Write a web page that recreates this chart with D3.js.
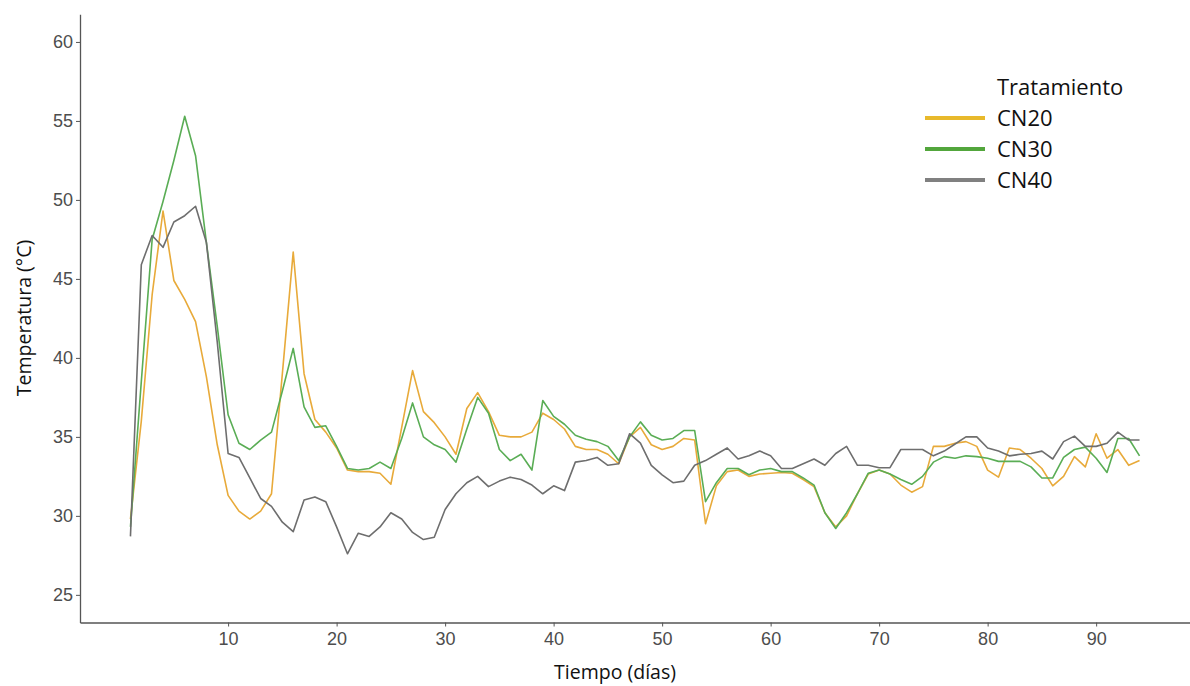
<!DOCTYPE html>
<html>
<head>
<meta charset="utf-8">
<script src="https://cdn.jsdelivr.net/npm/d3@7"></script>
<style>
  body { margin: 0; background: #fff; }
  .tick text { font-family: "Liberation Sans", Arial, sans-serif; font-size: 18px; fill: #4d4d4d; }
  .tick line, .domain { stroke: #555; }
  .title { font-family: "Open Sans", sans-serif; font-size: 19.5px; fill: #111; }
  .legend text { font-family: "Open Sans", sans-serif; font-size: 22px; fill: #111; }
</style>
</head>
<body>
<div id="chart"></div>
<script>
// days 1..94
const days = d3.range(1, 95);

const cn20 = [29.8, 36.0, 44.0, 49.3, 44.9, 43.7, 42.3, 38.8, 34.5, 31.3,
  30.3, 29.8, 30.3, 31.4, 39.0, 46.7, 39.0, 36.1, 35.3, 34.3,
  32.9, 32.8, 32.8, 32.7, 32.0, 35.6, 39.2, 36.6, 35.9, 35.0,
  33.9, 36.8, 37.8, 36.6, 35.1, 35.0, 35.0, 35.3, 36.5, 36.1,
  35.5, 34.4, 34.2, 34.2, 33.9, 33.3, 35.0, 35.6, 34.5, 34.2,
  34.4, 34.9, 34.8, 29.5, 31.9, 32.8, 32.9, 32.5, 32.65, 32.7,
  32.75, 32.7, 32.3, 31.85, 30.2, 29.3, 30.0, 31.4, 32.65, 32.9,
  32.65, 31.95, 31.5, 31.85, 34.4, 34.4, 34.6, 34.7, 34.4, 32.9,
  32.45, 34.3, 34.2, 33.65, 33.0, 31.9, 32.5, 33.75, 33.1, 35.2,
  33.65, 34.2, 33.2, 33.5];

const cn30 = [29.3, 38.5, 47.5, 49.9, 52.5, 55.3, 52.8, 47.3, 42.0, 36.4,
  34.6, 34.2, 34.8, 35.3, 37.9, 40.6, 36.9, 35.6, 35.7, 34.4,
  33.0, 32.9, 33.0, 33.4, 33.0, 34.9, 37.15, 35.0, 34.5, 34.2,
  33.4, 35.5, 37.5, 36.5, 34.2, 33.5, 33.9, 32.9, 37.3, 36.3,
  35.8, 35.1, 34.85, 34.7, 34.4, 33.5, 35.0, 35.95, 35.1, 34.8,
  34.9, 35.4, 35.4, 30.9, 32.1, 33.0, 33.0, 32.6, 32.9, 33.0,
  32.8, 32.8, 32.4, 31.95, 30.2, 29.2, 30.2, 31.4, 32.7, 32.9,
  32.65, 32.3, 32.0, 32.5, 33.4, 33.75, 33.65, 33.8, 33.75, 33.65,
  33.45, 33.45, 33.45, 33.1, 32.4, 32.4, 33.7, 34.2, 34.35, 33.65,
  32.75, 34.9, 34.9, 33.8];

const cn40 = [28.7, 45.9, 47.75, 47.0, 48.6, 49.0, 49.6, 47.3, 41.0, 33.95,
  33.7, 32.4, 31.1, 30.6, 29.6, 29.0, 31.0, 31.2, 30.9, 29.3,
  27.6, 28.9, 28.7, 29.3, 30.2, 29.8, 28.95, 28.5, 28.65, 30.4,
  31.4, 32.1, 32.5, 31.85, 32.2, 32.45, 32.3, 31.95, 31.4, 31.9,
  31.6, 33.4, 33.5, 33.7, 33.2, 33.3, 35.2, 34.6, 33.2, 32.6,
  32.1, 32.2, 33.2, 33.5, 33.9, 34.3, 33.6, 33.8, 34.1, 33.8,
  33.0, 33.0, 33.3, 33.6, 33.2, 33.95, 34.4, 33.2, 33.2, 33.05,
  33.05, 34.2, 34.2, 34.2, 33.8, 34.1, 34.55, 35.0, 35.0, 34.3,
  34.1, 33.8, 33.9, 33.95, 34.1, 33.6, 34.7, 35.05, 34.4, 34.4,
  34.6, 35.3, 34.8, 34.8];

const seriesNames = ["CN20", "CN30", "CN40"];
const lineColors = ["#e8aa3a", "#5aad55", "#6e6e6e"];
const legendColors = ["#e8b92b", "#52a63c", "#808080"];

const xTicks = [10, 20, 30, 40, 50, 60, 70, 80, 90];
const yTicks = [25, 30, 35, 40, 45, 50, 55, 60];

const width = 1190, height = 686;

const svg = d3.select("#chart").append("svg")
    .attr("width", width)
    .attr("height", height);

svg.append("rect").attr("width", width).attr("height", height).attr("fill", "#fff");

const x = d3.scaleLinear().domain([-3.65, 98.65]).range([80, 1190]);
const y = d3.scaleLinear().domain([23.25, 61.75]).range([622.5, 14.3]);

svg.append("g")
    .attr("transform", "translate(80,0)")
    .call(d3.axisLeft(y).tickValues(yTicks).tickSize(4).tickSizeOuter(0).tickPadding(3))
    .call(function(g) { g.select(".domain").attr("stroke-width", 1.3); });

svg.append("g")
    .attr("transform", "translate(0,622.5)")
    .call(d3.axisBottom(x).tickValues(xTicks).tickSize(4).tickSizeOuter(0).tickPadding(6))
    .call(function(g) { g.select(".domain").attr("stroke-width", 1.3); });

const line = d3.line()
    .x(function(d) { return x(d[0]); })
    .y(function(d) { return y(d[1]); });

[cn20, cn30, cn40].forEach(function(vals, i) {
    svg.append("path")
        .datum(days.map(function(d, j) { return [d, vals[j]]; }))
        .attr("fill", "none")
        .attr("stroke", lineColors[i])
        .attr("stroke-width", 1.6)
        .attr("stroke-linejoin", "round")
        .attr("d", line);
});

svg.append("text")
    .attr("class", "title")
    .attr("transform", "translate(24,318) rotate(-90)")
    .attr("text-anchor", "middle")
    .attr("dy", "0.35em")
    .text("Temperatura (°C)");

svg.append("text")
    .attr("class", "title")
    .attr("x", 615)
    .attr("y", 672)
    .attr("text-anchor", "middle")
    .attr("dy", "0.35em")
    .text("Tiempo (días)");

const legend = svg.append("g").attr("class", "legend");

legend.append("text")
    .attr("x", 997)
    .attr("y", 95)
    .text("Tratamiento");

const items = legend.selectAll("g.item")
    .data(seriesNames).enter()
    .append("g")
    .attr("class", "item")
    .attr("transform", function(d, i) { return `translate(0,${118 + i * 31})`; });

items.append("line")
    .attr("x1", 925).attr("x2", 985)
    .attr("stroke", function(d, i) { return legendColors[i]; })
    .attr("stroke-width", 4);

items.append("text")
    .attr("x", 997)
    .attr("dy", 8)
    .text(function(d) { return d; });
</script>
</body>
</html>
